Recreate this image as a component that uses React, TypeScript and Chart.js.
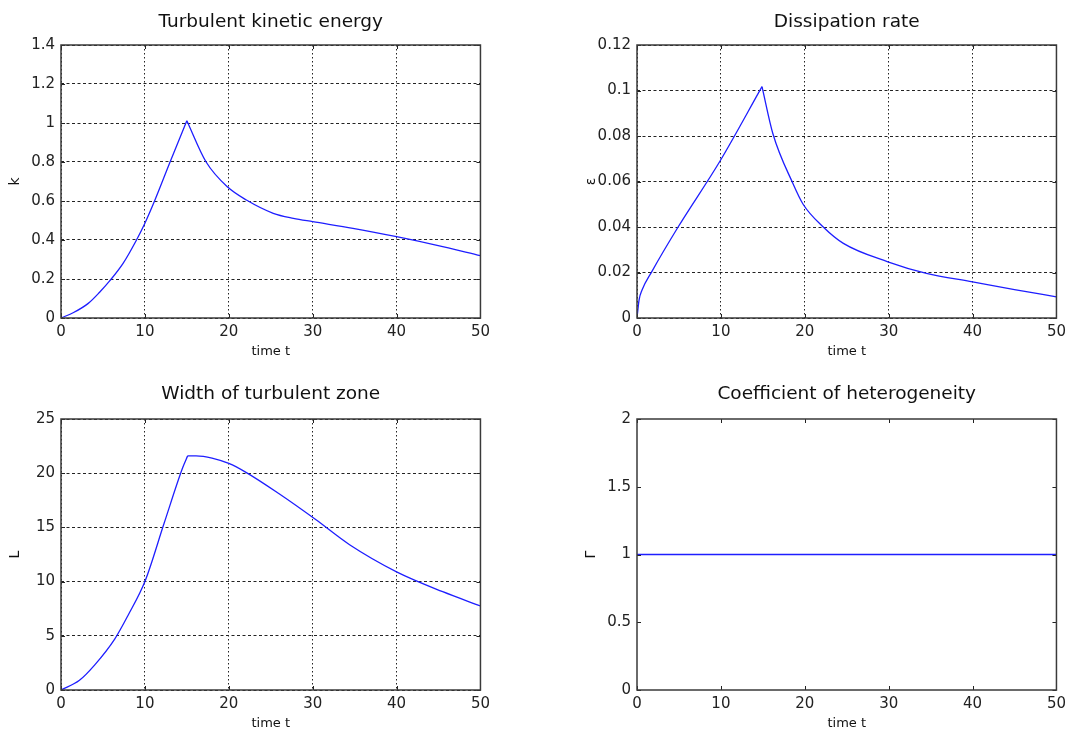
import React, { useEffect, useRef } from "react";
import { Chart, registerables } from "chart.js";

Chart.register(...registerables);

// ---------- data ----------
const xTicks = [0, 10, 20, 30, 40, 50];

const kTime = [0, 1.5, 3.25, 4.6, 5.8, 7.4, 9, 10, 11.2, 13, 15, 17.3, 19.9, 22.1, 25.3, 27.7, 30, 34.8, 40, 44.7, 50];
const kValues = [0, 0.028, 0.075, 0.132, 0.19, 0.28, 0.4, 0.486, 0.605, 0.8, 1.012, 0.8, 0.67, 0.605, 0.537, 0.511, 0.494, 0.46, 0.417, 0.374, 0.32];

const epsTime = [0, 0.25, 0.6, 1.75, 4.9, 9.9, 14.9, 16.2, 18.6, 19.8, 22.2, 24.6, 29.9, 34.5, 40, 45, 50];
const epsValues = [0, 0.008, 0.0123, 0.0203, 0.04, 0.069, 0.1017, 0.081, 0.059, 0.05, 0.04, 0.0328, 0.0247, 0.0196, 0.0159, 0.0125, 0.0093];

const lTime = [0, 2.2, 4, 6.4, 8, 10, 12.3, 14.5, 15.1, 16.1, 18, 20, 22, 26, 30.4, 34.4, 40, 45.5, 50];
const lValues = [0, 0.9, 2.3, 4.7, 6.9, 10.0, 15.4, 20.5, 21.6, 21.6, 21.4, 20.9, 20.1, 18.1, 15.7, 13.4, 10.9, 9.07, 7.75];

const gammaTime = [0, 50];
const gammaValues = [1, 1];

// index where the curve turns (sharp corner)
const kCorner = 10;
const epsCorner = 6;
const lCorner = 8;
const gammaCorner = 1;

const kTicks = [0, 0.2, 0.4, 0.6, 0.8, 1, 1.2, 1.4];
const epsTicks = [0, 0.02, 0.04, 0.06, 0.08, 0.1, 0.12];
const lTicks = [0, 5, 10, 15, 20, 25];
const gammaTicks = [0, 0.5, 1, 1.5, 2];

const panelTitles = ["Turbulent kinetic energy", "Dissipation rate", "Width of turbulent zone", "Coefficient of heterogeneity"];
const yLabels = ["k", "\u03b5", "L", "\u0393"];
const xLabel = "time t";

// ---------- layout / style ----------
const LEFT = 61;
const TOP = 45;
const RIGHT = 14;
const FONT = "'DejaVu Sans', 'Liberation Sans', Arial, sans-serif";
const LINE = "rgb(30,30,255)";

type Cfg = {
  title: string;
  yLabel: string;
  t: number[];
  v: number[];
  corner: number;
  yTicks: number[];
  grid: boolean;
  left: number;
  top: number;
  plotW: number;
  plotH: number;
  bottom: number;
  titleGap: number;
};

const panels: Cfg[] = [
  { title: panelTitles[0], yLabel: yLabels[0], t: kTime, v: kValues, corner: kCorner, yTicks: kTicks, grid: true, left: 61, top: 45, plotW: 420, plotH: 273, bottom: 48, titleGap: 18.5 },
  { title: panelTitles[1], yLabel: yLabels[1], t: epsTime, v: epsValues, corner: epsCorner, yTicks: epsTicks, grid: true, left: 637, top: 45, plotW: 420, plotH: 273, bottom: 48, titleGap: 18.5 },
  { title: panelTitles[2], yLabel: yLabels[2], t: lTime, v: lValues, corner: lCorner, yTicks: lTicks, grid: true, left: 61, top: 419, plotW: 420, plotH: 271, bottom: 44, titleGap: 20.5 },
  { title: panelTitles[3], yLabel: yLabels[3], t: gammaTime, v: gammaValues, corner: gammaCorner, yTicks: gammaTicks, grid: false, left: 637, top: 419, plotW: 420, plotH: 271, bottom: 44, titleGap: 20.5 },
];

const fmt = (v: number) => String(Number(Number(v).toFixed(4)));

function framePlugin(cfg: Cfg) {
  return {
    id: "frame",
    afterDraw(chart: any) {
      const { ctx, chartArea } = chart;
      const { left, right, top, bottom } = chartArea;
      const xs = chart.scales.x;
      const ys = chart.scales.y;
      ctx.save();
      ctx.strokeStyle = "#222";
      ctx.lineWidth = 1;
      ctx.beginPath();
      const tl = 4;
      xTicks.forEach((v) => {
        const px = Math.round(xs.getPixelForValue(v)) + 0.5;
        ctx.moveTo(px, bottom);
        ctx.lineTo(px, bottom - tl);
        ctx.moveTo(px, top);
        ctx.lineTo(px, top + tl);
      });
      cfg.yTicks.forEach((v) => {
        const py = Math.round(ys.getPixelForValue(v)) + 0.5;
        ctx.moveTo(left, py);
        ctx.lineTo(left + tl, py);
        ctx.moveTo(right, py);
        ctx.lineTo(right - tl, py);
      });
      ctx.stroke();
      ctx.strokeStyle = "#3a3a3a";
      ctx.lineWidth = 1.5;
      ctx.strokeRect(left, top, right - left, bottom - top);
      ctx.fillStyle = "#111";
      ctx.font = `18.5px ${FONT}`;
      ctx.textAlign = "center";
      ctx.textBaseline = "alphabetic";
      ctx.fillText(cfg.title, (left + right) / 2, top - cfg.titleGap);
      ctx.restore();
    },
  };
}

function Panel({ cfg }: { cfg: Cfg }) {
  const ref = useRef<HTMLCanvasElement | null>(null);
  const W = cfg.plotW + LEFT + RIGHT;
  const H = cfg.plotH + TOP + cfg.bottom;

  useEffect(() => {
    if (!ref.current) return;
    const dash = cfg.grid ? [3, 2.5] : [];
    const pts = cfg.t.map((x, i) => ({ x, y: cfg.v[i] }));
    const seg = (data: { x: number; y: number }[]) => ({
      data,
      borderColor: LINE,
      borderWidth: 1.3,
      pointRadius: 0,
      cubicInterpolationMode: "monotone",
      fill: false,
    });
    const chart = new Chart(ref.current, {
      type: "line",
      data: {
        datasets: [seg(pts.slice(0, cfg.corner + 1)), seg(pts.slice(cfg.corner))],
      },
      options: {
        animation: false,
        responsive: false,
        events: [],
        layout: { padding: { top: TOP, right: RIGHT, left: 0, bottom: 0 } },
        plugins: {
          legend: { display: false },
          tooltip: { enabled: false },
          title: { display: false },
        },
        scales: {
          x: {
            type: "linear",
            min: 0,
            max: 50,
            afterBuildTicks: (s: any) => {
              s.ticks = xTicks.map((value) => ({ value }));
            },
            afterFit: (s: any) => {
              s.height = cfg.bottom;
            },
            ticks: {
              autoSkip: false,
              maxRotation: 0,
              padding: 5,
              color: "#222",
              font: { family: FONT, size: 15 },
              callback: (v: any) => fmt(v),
            },
            grid: { display: cfg.grid, drawTicks: false, color: "#222", lineWidth: 1, borderDash: [1.5, 2.5] } as any,
            border: { display: false, dash: [1.5, 2.5] },
            title: {
              display: true,
              text: xLabel,
              color: "#111",
              font: { family: FONT, size: 13, lineHeight: 1.2 },
              padding: { top: 0, bottom: cfg.bottom - 34 - 7.8 },
            },
          },
          y: {
            type: "linear",
            min: cfg.yTicks[0],
            max: cfg.yTicks[cfg.yTicks.length - 1],
            afterBuildTicks: (s: any) => {
              s.ticks = cfg.yTicks.map((value) => ({ value }));
            },
            afterFit: (s: any) => {
              s.width = LEFT;
            },
            ticks: {
              autoSkip: false,
              padding: 6,
              color: "#222",
              font: { family: FONT, size: 15 },
              callback: (v: any) => fmt(v),
            },
            grid: { display: cfg.grid, drawTicks: false, color: "#222", lineWidth: 1, borderDash: dash } as any,
            border: { display: false, dash },
            title: {
              display: true,
              text: cfg.yLabel,
              color: "#111",
              font: { family: FONT, size: 14, lineHeight: 1.2 },
              padding: { top: 7, bottom: 0 },
            },
          },
        },
      } as any,
      plugins: [framePlugin(cfg)],
    });
    return () => chart.destroy();
  }, []);

  return (
    <canvas
      ref={ref}
      width={W}
      height={H}
      style={{ position: "absolute", left: cfg.left - LEFT, top: cfg.top - TOP, width: W, height: H }}
    />
  );
}

export default function App() {
  return (
    <div style={{ position: "absolute", left: 0, top: 0, width: 1074, height: 736, background: "#fff", overflow: "hidden" }}>
      {panels.map((p, i) => (
        <Panel key={i} cfg={p} />
      ))}
    </div>
  );
}
